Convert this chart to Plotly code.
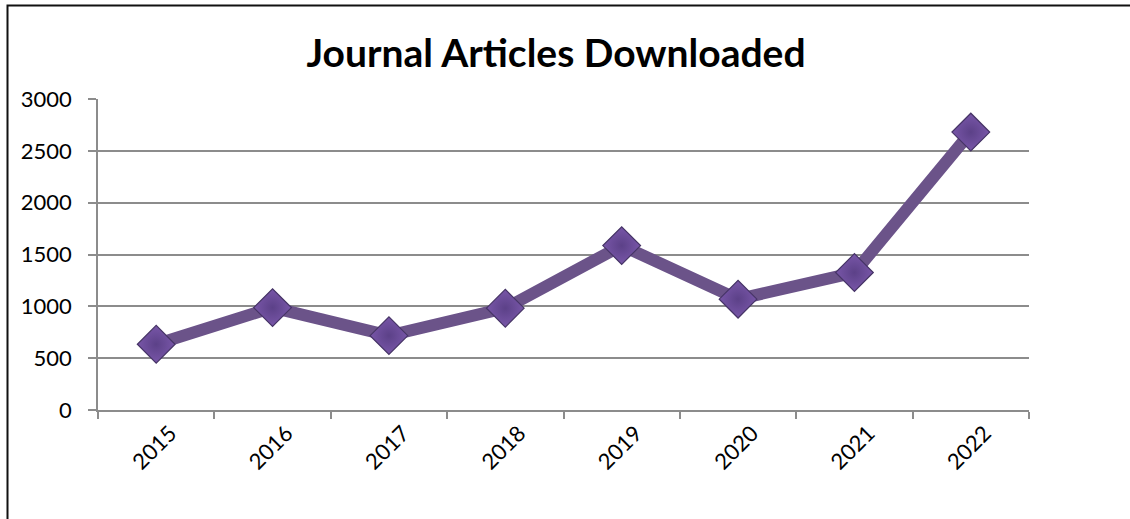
import plotly.graph_objects as go

years = ["2015", "2016", "2017", "2018", "2019", "2020", "2021", "2022"]
downloads = [634, 988, 717, 982, 1586, 1069, 1326, 2681]
y_ticks = [0, 500, 1000, 1500, 2000, 2500, 3000]

W, H = 1130, 519
L, R, T, B = 98, 1029, 99, 410
FONT = "Lato, Open Sans, sans-serif"

fig = go.Figure()
fig.add_trace(go.Scatter(
    x=years, y=downloads, mode="lines+markers",
    line=dict(color="#6b5389", width=12),
    marker=dict(symbol="diamond", size=29, color="#7856a8",
                line=dict(color="#463466", width=1.2),
                gradient=dict(type="radial", color="#5c4188")),
    showlegend=False, hoverinfo="x+y",
))

fig.update_layout(
    width=W, height=H,
    margin=dict(l=L, r=W - R, t=T, b=H - B, pad=0),
    paper_bgcolor="white", plot_bgcolor="white",
    title=dict(text="<b>Journal Articles Downloaded</b>", x=556 / W, xanchor="center",
               y=1 - 53 / H, yanchor="middle",
               font=dict(family=FONT, size=39, color="black")),
    font=dict(family=FONT, size=22, color="black"),
    xaxis=dict(
        type="category", range=[-0.5, len(years) - 0.5],
        showgrid=False, showline=True, linecolor="#8c8c8c", linewidth=1.5,
        ticks="outside", ticklen=7, tickcolor="#8c8c8c", tickwidth=1.5,
        tickson="boundaries", tickangle=-45, ticklabelshift=14,
        tickfont=dict(family=FONT, size=22, color="black"),
    ),
    yaxis=dict(
        range=[0, 3000], tickvals=y_ticks,
        showgrid=True, gridcolor="#8c8c8c", gridwidth=1.5,
        showline=True, linecolor="#8c8c8c", linewidth=1.5,
        ticks="outside", ticklen=8, tickcolor="#8c8c8c", tickwidth=1.5,
        ticklabelstandoff=12, zeroline=False,
        tickfont=dict(family=FONT, size=22, color="black"),
    ),
    shapes=[dict(
        type="rect", xref="paper", yref="paper",
        x0=(7.5 - L) / (R - L), x1=(1140 - L) / (R - L),
        y0=(B - 530) / (B - T), y1=(B - 5.5) / (B - T),
        line=dict(color="#111111", width=2), fillcolor="rgba(0,0,0,0)", layer="below",
    )],
)

fig.write_html("out.html", config={"displayModeBar": False},
               post_script="document.body.style.margin='0';document.body.style.overflow='hidden';")
